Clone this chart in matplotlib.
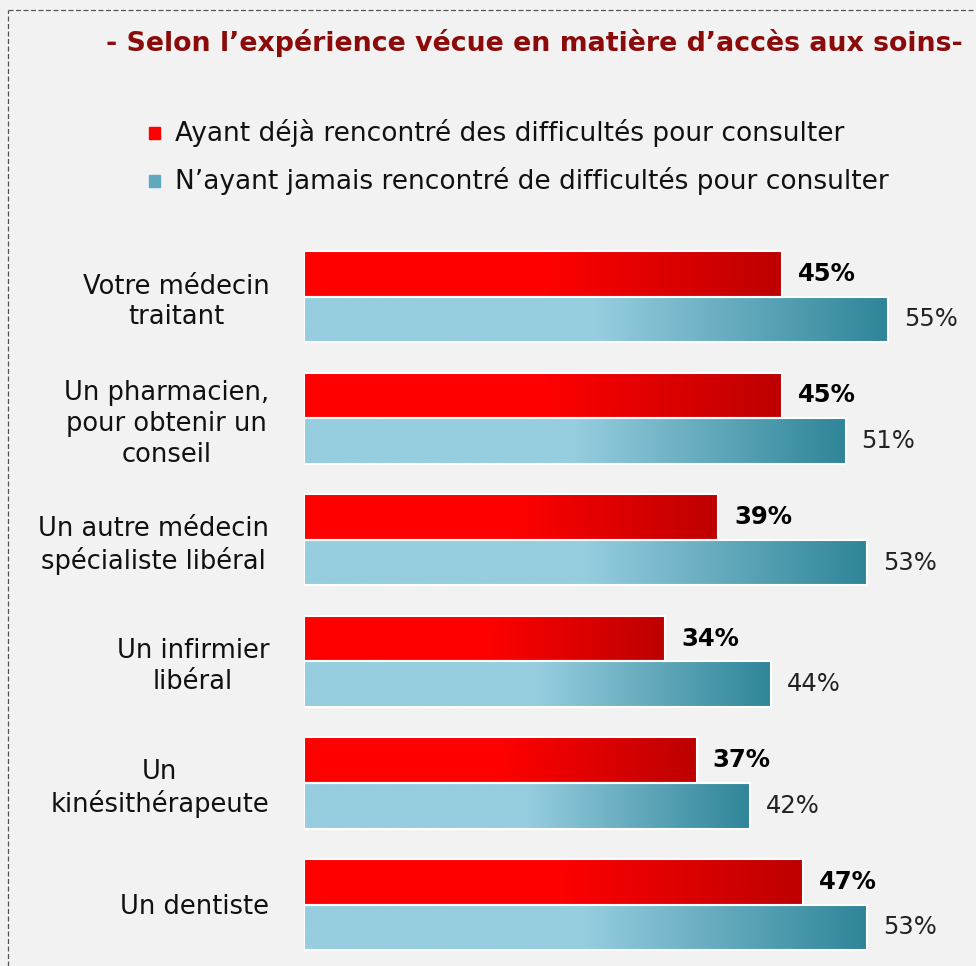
import numpy as np
import matplotlib.pyplot as plt
from matplotlib.colors import LinearSegmentedColormap
from matplotlib.patches import Rectangle
from matplotlib.lines import Line2D

# ── data ─────────────────────────────────────────────────────────────────────
categories = [
    "Votre médecin\ntraitant",
    "Un pharmacien,\npour obtenir un\nconseil",
    "Un autre médecin\nspécialiste libéral",
    "Un infirmier\nlibéral",
    "Un\nkinésithérapeute",
    "Un dentiste",
]
with_difficulty = [45, 45, 39, 34, 37, 47]
never_difficulty = [55, 51, 53, 44, 42, 53]

title = "- Selon l\u2019expérience vécue en matière d\u2019accès aux soins-"
legend_labels = [
    "Ayant déjà rencontré des difficultés pour consulter",
    "N\u2019ayant jamais rencontré de difficultés pour consulter",
]

# ── style ────────────────────────────────────────────────────────────────────
W, H = 976, 966
BG = "#f2f2f2"
plt.rcParams["font.family"] = ["DejaVu Sans"]

red_cmap = LinearSegmentedColormap.from_list(
    "red", [(0, "#ff0000"), (0.5, "#ff0000"), (1, "#bd0000")])
blue_cmap = LinearSegmentedColormap.from_list(
    "blue", [(0, "#96cddf"), (0.5, "#96cddf"), (1, "#2f8598")])
grad = np.linspace(0, 1, 256).reshape(1, -1)


def px(x, y):
    """pixel coords (top-left origin) -> figure fraction"""
    return x / W, 1 - y / H


fig = plt.figure(figsize=(W / 100, H / 100), dpi=100, facecolor=BG)

# axes: x=0 at pixel 304, 10.62 px per %, group i centred at 296.5 + 121.6*i px
x0, ppu = 304, 10.62
top_px = 230
ax = fig.add_axes([x0 / W, 0, 1 - x0 / W, (H - top_px) / H])
ax.set_facecolor(BG)
for s in ax.spines.values():
    s.set_visible(False)
ax.set_xticks([])

h = 0.375
for i, (r, b) in enumerate(zip(with_difficulty, never_difficulty)):
    for val, y0, cmap, bold, col in [(r, i - h, red_cmap, True, "black"),
                                     (b, i, blue_cmap, False, "#222222")]:
        ax.imshow(grad, cmap=cmap, aspect="auto", extent=[0, val, y0 + h, y0],
                  interpolation="bilinear", zorder=2)
        ax.add_patch(Rectangle((0, y0), val, h, fill=False, ec="white",
                               lw=1.5, zorder=3))
        ax.text(val + 1.5, y0 + h / 2, f"{val}%", va="center", ha="left",
                fontsize=17.5, fontweight="bold" if bold else "normal",
                color=col)

ax.set_xlim(0, (W - x0) / ppu)
ax.set_ylim((H - 296.5) / 121.6, (top_px - 296.5) / 121.6)
ax.set_yticks(range(len(categories)))
ax.set_yticklabels(categories, fontsize=18.5, ha="right", multialignment="center",
                   linespacing=1.25, color="#111111")
ax.tick_params(axis="y", length=0, pad=25)

# title
fig.text(*px(534, 43), title, ha="center", va="center", fontsize=19.3,
         fontweight="bold", color="#8b0a0a")

# legend
leg_cols = ["#ff0000", "#5fa9bf"]
for k, (lab, c) in enumerate(zip(legend_labels, leg_cols)):
    yk = 133 + 48 * k
    fig.patches.append(Rectangle(px(149, yk + 6), 11 / W, 12 / H, color=c,
                                 transform=fig.transFigure, figure=fig))
    fig.text(*px(175, yk), lab, ha="left", va="center", fontsize=19,
             color="#111111")

# dashed frame (left and top)
fig.lines.append(Line2D([8 / W, 8 / W], [0, 1 - 10 / H], transform=fig.transFigure,
                        color="#555555", lw=0.9, ls=(0, (4, 2))))
fig.lines.append(Line2D([8 / W, 1], [1 - 10 / H, 1 - 10 / H], transform=fig.transFigure,
                        color="#555555", lw=0.9, ls=(0, (4, 2))))

fig.savefig("out.png", dpi=100, facecolor=BG)
